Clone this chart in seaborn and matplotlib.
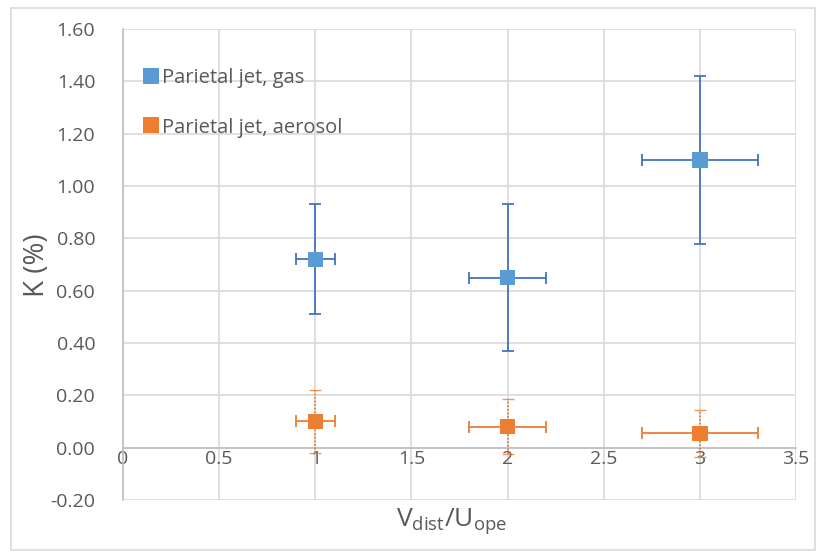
import numpy as np
import pandas as pd
import matplotlib
matplotlib.use("Agg")
import matplotlib.pyplot as plt
from matplotlib.patches import Rectangle
from matplotlib.lines import Line2D
import seaborn as sns

# Data
series_names = ["Parietal jet, gas", "Parietal jet, aerosol"]
x_ratio = [1, 2, 3]
x_err = [0.1, 0.2, 0.3]
k_gas = [0.72, 0.65, 1.10]
k_gas_err = [0.21, 0.28, 0.32]
k_aerosol = [0.10, 0.08, 0.055]
k_aerosol_err = [0.12, 0.105, 0.09]
x_ticks = [0, 0.5, 1, 1.5, 2, 2.5, 3, 3.5]
x_tick_labels = ["0", "0.5", "1", "1.5", "2", "2.5", "3", "3.5"]
y_ticks = [-0.2, 0.0, 0.2, 0.4, 0.6, 0.8, 1.0, 1.2, 1.4, 1.6]

marker_colors = {"Parietal jet, gas": "#5B9BD5", "Parietal jet, aerosol": "#ED7D31"}
bar_colors = {"Parietal jet, gas": "#4472C4", "Parietal jet, aerosol": "#ED7D31"}

df = pd.DataFrame({
    "x": x_ratio * 2,
    "K": k_gas + k_aerosol,
    "xerr": x_err * 2,
    "yerr": k_gas_err + k_aerosol_err,
    "series": [series_names[0]] * 3 + [series_names[1]] * 3,
})

sns.set_style("white")
plt.rcParams["font.family"] = ["Open Sans", "DejaVu Sans"]

fig = plt.figure(figsize=(8.16, 5.51), dpi=100)
ax = fig.add_axes([123 / 816, 1 - 500 / 551, (796 - 123) / 816, (500 - 29) / 551])

# outer chart border
fig.patches.append(Rectangle((11 / 816, 1 / 551), 804 / 816, 542 / 551,
                             transform=fig.transFigure, fill=False,
                             edgecolor="#D9D9D9", linewidth=1.2, zorder=0))

# error bars
for name in series_names:
    sub = df[df["series"] == name]
    c = bar_colors[name]
    # horizontal bars (solid)
    ax.errorbar(sub["x"], sub["K"], xerr=sub["xerr"], fmt="none", ecolor=c,
                elinewidth=1.3, capsize=4.5, capthick=1.3, zorder=3)
    # vertical bars
    dotted = name == series_names[1]
    _, caps, bars = ax.errorbar(sub["x"], sub["K"], yerr=sub["yerr"], fmt="none",
                                ecolor=c, elinewidth=1.3, capsize=4.5,
                                capthick=1.0 if dotted else 1.3, zorder=3)
    if dotted:
        for b in bars:
            b.set_linestyle((0, (1, 1)))
        for cp in caps:
            cp.set_alpha(0.8)

sns.scatterplot(data=df, x="x", y="K", hue="series", palette=marker_colors,
                marker="s", s=125, linewidth=0, ax=ax, zorder=4, legend=False)

ax.set_xlim(0, 3.5)
ax.set_ylim(-0.2, 1.6)
ax.set_xticks(x_ticks)
ax.set_xticklabels(x_tick_labels)
ax.set_yticks(y_ticks)
ax.set_yticklabels([f"{v:.2f}" for v in y_ticks])
ax.grid(True, color="#D9D9D9", linewidth=1.2)
ax.set_axisbelow(True)

for side in ["top", "right", "left", "bottom"]:
    ax.spines[side].set_visible(False)
# x axis sits at K = 0
ax.spines["left"].set_visible(True)
ax.spines["left"].set_color("#BFBFBF")
ax.spines["left"].set_linewidth(1.2)
ax.spines["bottom"].set_visible(True)
ax.spines["bottom"].set_position(("data", 0))
ax.spines["bottom"].set_color("#BFBFBF")
ax.spines["bottom"].set_linewidth(1.2)

ax.tick_params(axis="both", length=0, labelsize=14, labelcolor="#595959")
ax.tick_params(axis="y", pad=20)
ax.tick_params(axis="x", pad=2)

ax.set_xlabel("")
ax.set_ylabel("")
fig.text(452 / 816, 1 - 522 / 551, r"V$_{\mathregular{dist}}$/U$_{\mathregular{ope}}$",
         ha="center", va="center", fontsize=19, color="#595959")
fig.text(37 / 816, 1 - 265 / 551, "K (%)", ha="center", va="center",
         rotation=90, fontsize=20, color="#595959")

handles = [Line2D([], [], marker="s", linestyle="none", markersize=11,
                  markerfacecolor=marker_colors[n], markeredgewidth=0)
           for n in series_names]
ax.legend(handles, series_names, loc="upper left", bbox_to_anchor=(0.0, 0.955),
          frameon=False, fontsize=14.5, labelcolor="#595959", handletextpad=0.05,
          labelspacing=1.45, handlelength=1.0)

fig.savefig("out.png", dpi=100)
